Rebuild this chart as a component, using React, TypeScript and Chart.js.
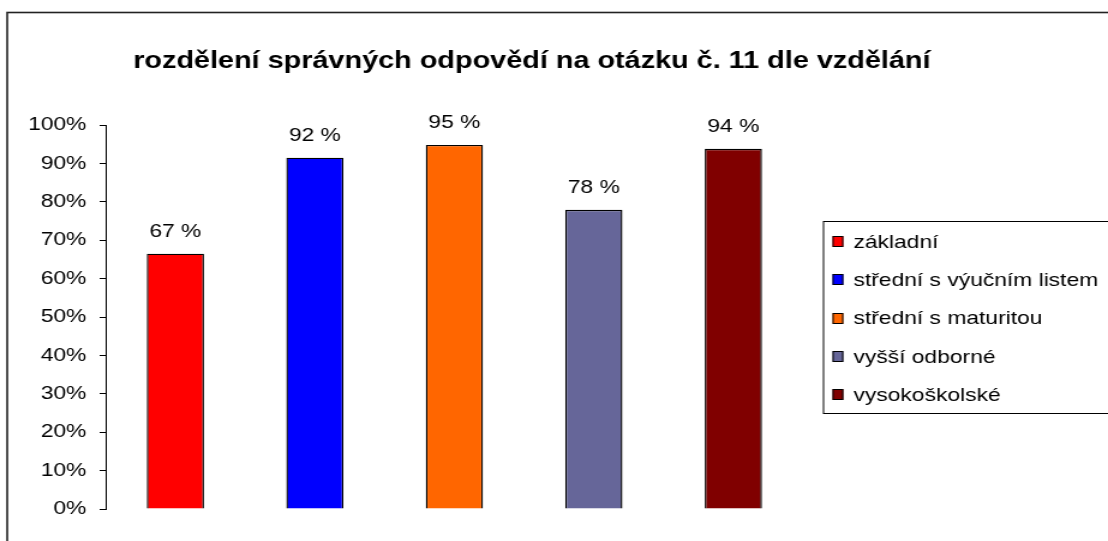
import React, { useEffect, useRef } from "react";
import { Chart, registerables } from "chart.js";

Chart.register(...registerables);

const TITLE = "rozdělení správných odpovědí na otázku č. 11 dle vzdělání";
const categories = [
  "základní",
  "střední s výučním listem",
  "střední s maturitou",
  "vyšší odborné",
  "vysokoškolské",
];
const values = [66.5, 91.5, 94.8, 77.9, 93.8];
const valueLabels = ["67 %", "92 %", "95 %", "78 %", "94 %"];
const colors = ["#FF0000", "#0000FF", "#FF6600", "#666699", "#800000"];
const yTicks = [0, 10, 20, 30, 40, 50, 60, 70, 80, 90, 100];

const FONT = "'Liberation Sans', Arial, sans-serif";
// the reference picture is stretched horizontally; render narrower and stretch
const VIEW_W = 1108;
const VIEW_H = 541;
const LOGICAL_W = 923;

const decorPlugin = {
  id: "decor",
  beforeDraw(chart: any) {
    const ctx = chart.ctx;
    ctx.save();
    ctx.fillStyle = "#ffffff";
    ctx.fillRect(0, 0, chart.width, chart.height);
    ctx.restore();
  },
  afterDraw(chart: any) {
    const ctx = chart.ctx;
    const area = chart.chartArea;
    ctx.save();
    // outer frame
    ctx.strokeStyle = "#222222";
    ctx.lineWidth = 1.6;
    ctx.strokeRect(6, 12.5, chart.width + 20, chart.height + 20);

    // title
    ctx.fillStyle = "#000000";
    ctx.font = `bold 24px ${FONT}`;
    ctx.textAlign = "center";
    ctx.textBaseline = "alphabetic";
    ctx.fillText(TITLE, 443, 68);

    // value labels
    const meta = chart.getDatasetMeta(0);
    ctx.font = `19px ${FONT}`;
    meta.data.forEach((bar: any, i: number) => {
      ctx.fillText(valueLabels[i], bar.x, bar.y - 17);
    });

    // legend
    const labels = chart.data.labels as string[];
    const ds = chart.data.datasets[0];
    const cy = (area.top + area.bottom) / 2 + 1;
    const step = 38.3;
    const boxLeft = area.right + 17;
    const boxTop = Math.round(cy - 2.5 * step - 1) + 0.5;
    const boxBottom = Math.round(cy + 2.5 * step - 1) + 0.5;
    ctx.strokeStyle = "#000000";
    ctx.lineWidth = 1;
    ctx.strokeRect(boxLeft, boxTop, chart.width, boxBottom - boxTop);
    ctx.font = `19px ${FONT}`;
    ctx.textAlign = "left";
    ctx.textBaseline = "middle";
    labels.forEach((lab, i) => {
      const y = cy + (i - 2) * step;
      const sx = boxLeft + 7.5;
      const sy = Math.round(y - 5.5);
      ctx.fillStyle = ds.backgroundColor[i];
      ctx.fillRect(sx, sy, 9, 11);
      ctx.strokeStyle = "#000000";
      ctx.lineWidth = 1;
      ctx.strokeRect(sx + 0.5, sy + 0.5, 8, 10);
      ctx.fillStyle = "#000000";
      ctx.fillText(lab, sx + 17.5, y + 1);
    });
    ctx.restore();
  },
};

export default function App() {
  const ref = useRef<HTMLCanvasElement | null>(null);

  useEffect(() => {
    if (!ref.current) return;
    const chart = new Chart(ref.current, {
      type: "bar",
      data: {
        labels: categories,
        datasets: [
          {
            data: values,
            backgroundColor: colors,
            borderColor: "#000000",
            borderWidth: 1.4,
            categoryPercentage: 1,
            barPercentage: 0.41,
          },
        ],
      },
      options: {
        responsive: false,
        animation: false,
        devicePixelRatio: 1,
        layout: { padding: { left: 0, right: 254, top: 125, bottom: 32 } },
        plugins: {
          legend: { display: false },
          title: { display: false },
          tooltip: { enabled: false },
        },
        scales: {
          x: { display: false },
          y: {
            min: 0,
            max: 100,
            afterFit: (axis: any) => {
              axis.width = 88;
            },
            afterBuildTicks: (axis: any) => {
              axis.ticks = yTicks.map((v) => ({ value: v }));
            },
            ticks: {
              color: "#000000",
              font: { family: FONT, size: 19 },
              padding: 11,
              callback: (v: any) => `${v}%`,
            },
            grid: {
              drawOnChartArea: false,
              drawTicks: true,
              tickLength: 5,
              tickColor: "#000000",
            },
            border: { display: true, color: "#000000", width: 1 },
          },
        },
      },
      plugins: [decorPlugin],
    });
    return () => chart.destroy();
  }, []);

  return (
    <div
      style={{
        position: "absolute",
        left: 0,
        top: 0,
        width: VIEW_W,
        height: VIEW_H,
        overflow: "hidden",
        background: "#fff",
      }}
    >
      <canvas
        ref={ref}
        width={LOGICAL_W}
        height={VIEW_H}
        style={{ width: `${VIEW_W}px`, height: `${VIEW_H}px`, display: "block" }}
      />
    </div>
  );
}
